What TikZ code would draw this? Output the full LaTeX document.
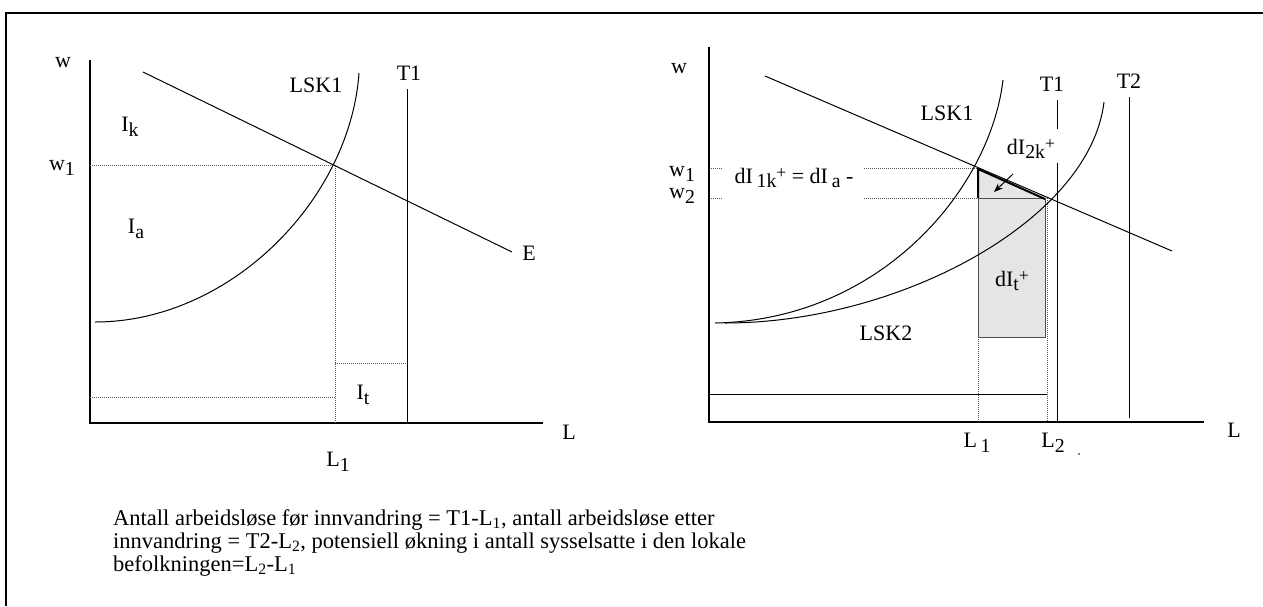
\documentclass[tikz,border=0pt]{standalone}
\usepackage{fontspec}
\usepackage{graphicx}
\setmainfont{Liberation Serif}
\usetikzlibrary{arrows.meta}
\newcommand{\mydn}[1]{\raisebox{-0.45ex}{\scalebox{0.9}{#1}}}
\newcommand{\myup}[1]{\raisebox{0.45ex}{\scalebox{0.8}{#1}}}
\tikzset{
  lbl/.style={inner sep=0pt, font=\fontsize{22}{24}\selectfont},
  capline/.style={anchor=base west, inner sep=0pt, font=\fontsize{22.5}{23}\selectfont},
  axis/.style={line width=1.4pt},
  curve/.style={line width=1pt},
  vline/.style={line width=1pt},
  dotl/.style={line width=0.9pt, gray!70!black, dash pattern=on 1pt off 1pt},
  frame/.style={line width=2.5pt},
}
\begin{document}
\begin{tikzpicture}[x=1pt,y=-1pt]
\useasboundingbox (0,0) rectangle (1263,606);
% frame
\draw[frame] (6,606) -- (6,13) -- (1263,13);
%%%%%%%%%%%%%%%% LEFT PANEL
\draw[axis] (90,60) -- (90,423) -- (543,423);
\node[lbl] (lw) at (63,63) {w};
\node[lbl] (lL) at (569,432) {L};
\node[lbl] (lw1) at (62,168) {w\mydn{1}};
\node[lbl] (lIk) at (130,127) {I\mydn{k}};
\node[lbl] (lIa) at (136,229) {I\mydn{a}};
\node[lbl] (lIt) at (363,395) {I\mydn{t}};
\node[lbl] (lLSK) at (316,85) {LSK1};
\node[lbl] (lT1) at (409,73) {T1};
\node[lbl] (lE) at (529,253) {E};
\node[lbl] (lL1) at (338,462) {L\mydn{1}};
% dotted guides
\draw[dotl] (90,165) -- (335,165) -- (335,423);
\draw[dotl] (335,363) -- (407,363);
\draw[dotl] (90,397) -- (335,397);
% curves
\draw[curve] (95,322) .. controls (230,322) and (350,200) .. (359,73);
\draw[curve] (143,72) -- (512,252);
\draw[vline] (407,89) -- (407,423);
%%%%%%%%%%%%%%%% RIGHT PANEL
% shaded areas
\fill[gray!20] (978,198) rectangle (1045,337);
\fill[gray!20] (978,168) -- (978,198) -- (1045,198) -- cycle;
\draw[line width=0.8pt, gray!60!black] (978,198) rectangle (1045,337);
\draw[dotl] (978,337) -- (978,422);
\draw[dotl] (1047,198) -- (1047,422);
\draw[dotl] (709,168) -- (722,168);
\draw[dotl] (864,168) -- (978,168);
\draw[dotl] (709,198) -- (723,198);
\draw[dotl] (864,198) -- (978,198);
\draw[axis] (709,47) -- (709,422) -- (1204,422);
\draw[line width=1pt] (708,394) -- (1047,394);
\draw[curve] (715,323) .. controls (880,320) and (990,190) .. (1003,80);
\draw[curve] (725,323) .. controls (900,323) and (1090,220) .. (1104,102);
\draw[curve] (765,76) -- (1172,251);
\draw[line width=2pt] (978,198) -- (978,169) -- (1045,199);
\draw[vline] (1057,100) -- (1057,129);
\draw[vline] (1057,163) -- (1057,422);
\draw[vline] (1129,97) -- (1129,418);
\node[lbl] (rw) at (679,69) {w};
\node[lbl] (rw1) at (682,174) {w\mydn{1}};
\node[lbl] (rw2) at (682,196) {w\mydn{2}};
\node[lbl] (rLSK1) at (947,113) {LSK1};
\node[lbl] (rLSK2) at (886,333) {LSK2};
\node[lbl] (rT1) at (1052,84) {T1};
\node[lbl] (rT2) at (1129,81) {T2};
\node[lbl] (rL) at (1234,430) {L};
\node[lbl] (rL1) at (977,443) {L\,\mydn{1}};
\node[lbl] (rL2) at (1053,443) {L\mydn{2}};
\node[lbl] (dI2k) at (1031,149) {dI\mydn{2k}\myup{+}};
\node[lbl] (dIt) at (1012,281) {dI\mydn{t}\myup{+}};
\node[lbl] (dI1k) at (794,178) {dI\,\mydn{1k}\myup{+} = dI\,\mydn{a} -};
\coordinate (atail) at (1013,174);
\coordinate (ahead) at (994,192);
\draw[line width=1pt, -{Stealth[length=9pt,width=7pt]}] (atail) -- (ahead);
\fill (1079,454) circle (0.8);
%%%%%%%%%%%%%%%% CAPTION
\node[capline] (cap1) at (113,525) {Antall arbeidsløse før innvandring = T1-L\textsubscript{1}, antall arbeidsløse etter};
\node[capline] (cap2) at (113,548) {innvandring = T2-L\textsubscript{2}, potensiell økning i antall sysselsatte i den lokale};
\node[capline] (cap3) at (113,571) {befolkningen=L\textsubscript{2}-L\textsubscript{1}};
\end{tikzpicture}
\end{document}
